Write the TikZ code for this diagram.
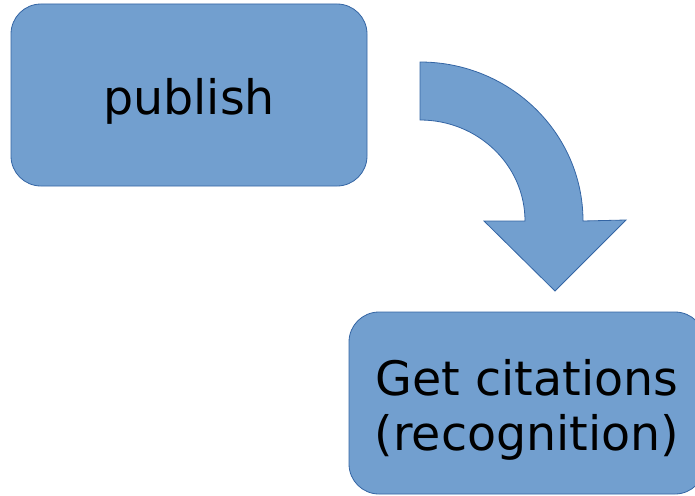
\documentclass[tikz,border=0pt]{standalone}
\usepackage{fontspec}
\setmainfont{DejaVu Sans}
\definecolor{boxfill}{HTML}{729FCF}
\definecolor{boxline}{HTML}{3465A4}
\begin{document}
\begin{tikzpicture}[x=1pt,y=-1pt,
  stepbox/.style={draw=boxline,line width=0.8pt,fill=boxfill,rounded corners=30pt,
    minimum width=356pt,minimum height=182pt,inner sep=0pt},
  steptext/.style={align=center,inner sep=0pt,font=\fontsize{47.5}{55}\selectfont},
  bendarrow/.style={draw=boxline,line width=0.8pt,fill=boxfill,line join=miter}]
\useasboundingbox (0,0) rectangle (695,495);
\node[stepbox] (pub) at (189,95) {};
\node[steptext,yshift=-6pt] (pubtext) at (pub.center) {publish};
\node[stepbox] (cite) at (527,403) {};
\node[steptext,yshift=-7pt] (citetext) at (cite.center) {Get citations\\(recognition)};
% curved arrow from the first step down to the second
\draw[bendarrow] (420,62) arc[start angle=-90,end angle=0,x radius=163,y radius=159]
  -- (626,220) -- (555,291) -- (484,221) -- (525,221)
  arc[start angle=0,end angle=-90,x radius=105,y radius=101] -- cycle;
\end{tikzpicture}
\end{document}
